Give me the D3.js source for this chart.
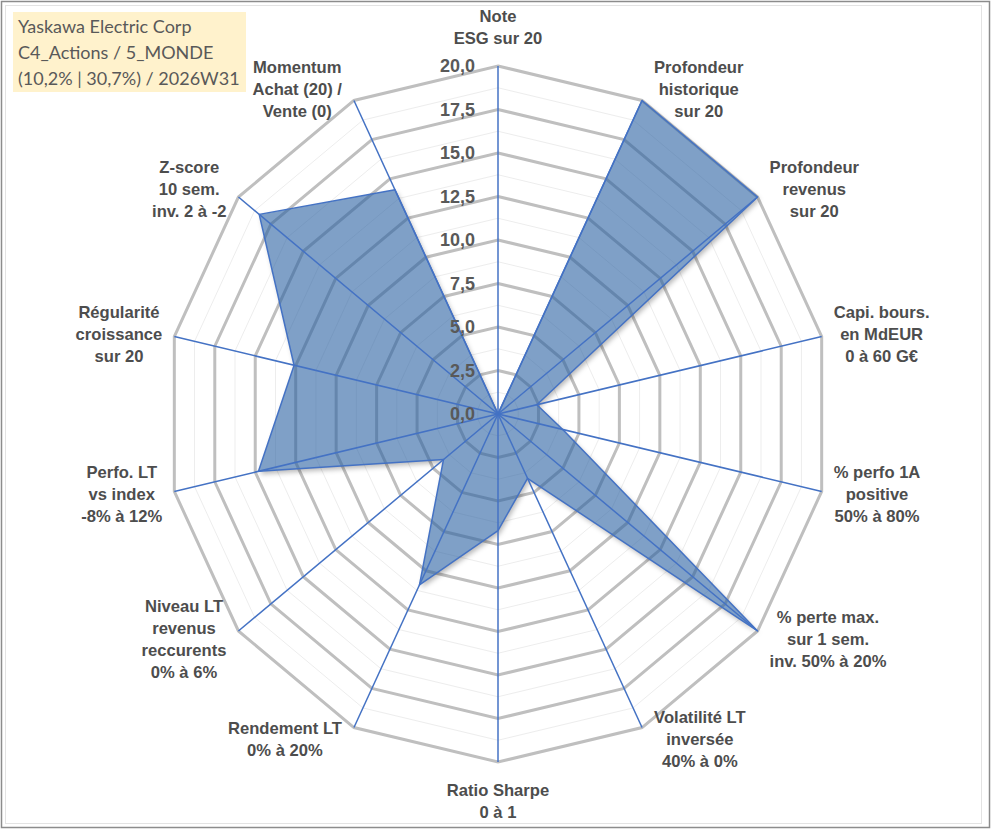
<!DOCTYPE html>
<html>
<head>
<meta charset="utf-8">
<script src="https://cdn.jsdelivr.net/npm/d3@7"></script>
<style>
    body { margin: 0; background: #fff; }
    .axis-label { font-family: "Liberation Sans", Arial, sans-serif; font-weight: bold; font-size: 16.6px; fill: #4d4d4d; }
    .tick-label { font-family: "Liberation Sans", Arial, sans-serif; font-weight: bold; font-size: 18px; fill: #595959; }
    .title-text { font-family: Lato, "Open Sans", sans-serif; font-size: 18px; fill: #595959; }
</style>
</head>
<body>
<div id="radar-chart"></div>
<script>

// Axis labels, clockwise from the top
var axisLabels = [
    ["Note", "ESG sur 20"],
    ["Profondeur", "historique", "sur 20"],
    ["Profondeur", "revenus", "sur 20"],
    ["Capi. bours.", "en MdEUR", "0 à 60 G€"],
    ["% perfo 1A", "positive", "50% à 80%"],
    ["% perte max.", "sur 1 sem.", "inv. 50% à 20%"],
    ["Volatilité LT", "inversée", "40% à 0%"],
    ["Ratio Sharpe", "0 à 1"],
    ["Rendement LT", "0% à 20%"],
    ["Niveau LT", "revenus", "reccurents", "0% à 6%"],
    ["Perfo. LT", "vs index", "-8% à 12%"],
    ["Régularité", "croissance", "sur 20"],
    ["Z-score", "10 sem.", "inv. 2 à -2"],
    ["Momentum", "Achat (20) /", "Vente (0)"]
];

// Scores (0 - 20)
var scores = [0, 20, 20, 2.4, 4.0, 20, 4.1, 6.7, 10.9, 4.2, 14.8, 12.6, 18.4, 14.3];

// Radial ticks
var tickValues = [0, 2.5, 5, 7.5, 10, 12.5, 15, 17.5, 20];
var minorTickValues = [1.25, 3.75, 6.25, 8.75, 11.25, 13.75, 16.25, 18.75];

var titleLines = ["Yaskawa Electric Corp", "C4_Actions / 5_MONDE", "(10,2% | 30,7%) / 2026W31"];


var width = 991, height = 830;
var cx = 498, cy = 414, rx = 332, ry = 348;

var frLocale = d3.formatLocale({decimal: ",", thousands: " ", grouping: [3], currency: ["", " €"]});
var formatTick = frLocale.format(".1f");

var svg = d3.select("#radar-chart").append("svg")
    .attr("width", width)
    .attr("height", height);

// Chart frame
svg.append("rect")
    .attr("x", 1.5).attr("y", 1.5)
    .attr("width", 988).attr("height", 826)
    .attr("fill", "#fff")
    .attr("stroke", "#8c8c8c")
    .attr("stroke-width", 1.5);
svg.append("rect")
    .attr("x", 5.5).attr("y", 5.5)
    .attr("width", 976).attr("height", 818)
    .attr("fill", "none")
    .attr("stroke", "#e3e3e3")
    .attr("stroke-width", 1);

// Scales
var n = axisLabels.length;
var r = d3.scaleLinear().domain([0, 20]).range([0, 1]);
var angle = d3.scaleLinear().domain([0, n]).range([0, 2 * Math.PI]);

function point(v, i) {
    var a = angle(i);
    return [cx + rx * r(v) * Math.sin(a), cy - ry * r(v) * Math.cos(a)];
}

var ringLine = d3.line().curve(d3.curveLinearClosed);
var areaPath = ringLine(scores.map(function(v, i) { return point(v, i); }));

// Shadow: blurred copy, masked so it never shows through the translucent fill
var defs = svg.append("defs");
defs.append("filter")
    .attr("id", "area-blur")
    .attr("x", "-10%").attr("y", "-10%")
    .attr("width", "130%").attr("height", "130%")
    .append("feGaussianBlur")
    .attr("stdDeviation", 2.5);
var mask = defs.append("mask").attr("id", "outside-area");
mask.append("rect").attr("width", width).attr("height", height).attr("fill", "#fff");
mask.append("path").attr("d", areaPath).attr("fill", "#000");

// Minor rings
svg.append("g").selectAll("path")
    .data(minorTickValues)
    .enter().append("path")
    .attr("d", function(t) { return ringLine(d3.range(n).map(function(i) { return point(t, i); })); })
    .attr("fill", "none")
    .attr("stroke", "#ededed")
    .attr("stroke-width", 1);

// Major rings
svg.append("g").selectAll("path")
    .data(tickValues.filter(function(t) { return t > 0; }))
    .enter().append("path")
    .attr("d", function(t) { return ringLine(d3.range(n).map(function(i) { return point(t, i); })); })
    .attr("fill", "none")
    .attr("stroke", "#bfbfbf")
    .attr("stroke-width", 3)
    .attr("stroke-linejoin", "miter");

// Data area
svg.append("g")
    .attr("mask", "url(#outside-area)")
    .append("path")
    .attr("d", areaPath)
    .attr("transform", "translate(2,3)")
    .attr("fill", "#000")
    .attr("fill-opacity", 0.28)
    .attr("filter", "url(#area-blur)");

svg.append("path")
    .attr("d", areaPath)
    .attr("fill", "#2a60a2")
    .attr("fill-opacity", 0.6)
    .attr("stroke", "#4472c4")
    .attr("stroke-width", 1.5)
    .attr("stroke-linejoin", "round");

// Spokes
svg.append("g").selectAll("line")
    .data(d3.range(n))
    .enter().append("line")
    .attr("x1", cx).attr("y1", cy)
    .attr("x2", function(i) { return point(20, i)[0]; })
    .attr("y2", function(i) { return point(20, i)[1]; })
    .attr("stroke", "#4472c4")
    .attr("stroke-width", 1.5);

// Tick labels along the top axis
svg.append("g").selectAll("text")
    .data(tickValues)
    .enter().append("text")
    .attr("class", "tick-label")
    .attr("x", cx - 23)
    .attr("y", function(t) { return point(t, 0)[1]; })
    .attr("dy", "0.36em")
    .attr("text-anchor", "end")
    .text(formatTick);

// Category labels, placed beside the end of each axis
var lineHeight = 22;
var labelGroups = svg.append("g").selectAll("g")
    .data(axisLabels)
    .enter().append("g");

labelGroups.each(function(lines, i) {
    var g = d3.select(this);
    var texts = g.selectAll("text")
        .data(lines)
        .enter().append("text")
        .attr("class", "axis-label")
        .attr("text-anchor", "middle")
        .attr("dy", "0.36em")
        .text(function(d) { return d; });

    var w = d3.max(texts.nodes(), function(t) { return t.getComputedTextLength(); });
    var h = lines.length * lineHeight;
    var a = angle(i);
    var end = point(20, i);
    var s = Math.sin(a), c = Math.cos(a);
    var lx, ly;
    if (Math.abs(s) < 0.01) {
        lx = end[0];
        ly = end[1] - c * (h / 2 + 17);
    } else {
        lx = end[0] + Math.sign(s) * (w / 2 + 12);
        ly = end[1] - c * 13;
    }
    texts.attr("x", lx)
        .attr("y", function(d, k) { return ly + (k - (lines.length - 1) / 2) * lineHeight; });
});

// Title box
var titleBox = svg.append("g");
titleBox.append("rect")
    .attr("x", 13).attr("y", 12)
    .attr("width", 233).attr("height", 80)
    .attr("fill", "#fff2cc");
titleBox.selectAll("text")
    .data(titleLines)
    .enter().append("text")
    .attr("class", "title-text")
    .attr("x", 18)
    .attr("y", function(d, k) { return 27 + k * 26; })
    .attr("dy", "0.36em")
    .text(function(d) { return d; });

</script>
</body>
</html>
